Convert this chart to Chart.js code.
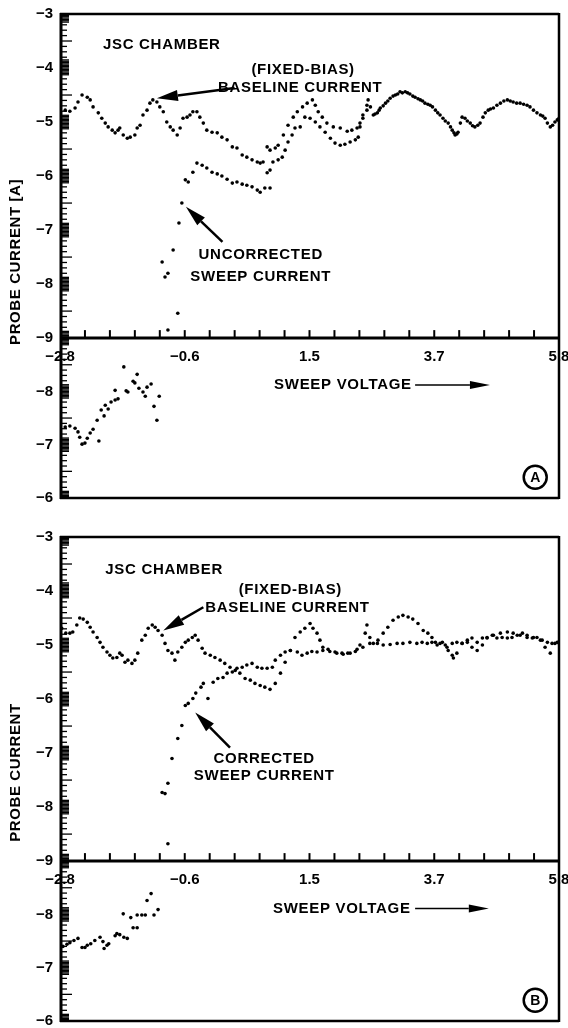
<!DOCTYPE html>
<html lang="en">
<head>
<meta charset="UTF-8">
<title>Probe current vs sweep voltage</title>
<script src="https://cdn.jsdelivr.net/npm/chart.js"></script>
<style>
  html, body { margin: 0; padding: 0; background: #fff; }
  body { width: 568px; height: 1028px; position: relative; overflow: hidden; }
  canvas { position: absolute; left: 0; }
  #chartA { top: 0; }
  #chartB { top: 523px; }
</style>
</head>
<body>
<canvas id="chartA" width="568" height="505"></canvas>
<canvas id="chartB" width="568" height="505"></canvas>
<script>
// sweep voltage axis, labelled ticks
const xTickValues = [-2.8, -0.65, 1.5, 3.65, 5.8];
const xTickLabels = ['−2.8', '−0.6', '1.5', '3.7', '5.8'];
// probe current axes: upper plot and the folded lower strip
const yUpperTicks = [-9, -8, -7, -6, -5, -4, -3];
const yLowerTicks = [-9, -8, -7, -6];

// panel A: fixed-bias baseline current [voltage, current]
const baselineA = [[-2.80,-4.69],[-2.71,-4.78],[-2.63,-4.80],[-2.54,-4.74],[-2.49,-4.63],[-2.42,-4.50],[-2.33,-4.54],[-2.28,-4.59],[-2.23,-4.72],[-2.14,-4.83],[-2.08,-4.93],[-2.02,-5.02],[-1.97,-5.09],[-1.90,-5.15],[-1.85,-5.20],[-1.80,-5.15],[-1.77,-5.11],[-1.71,-5.24],[-1.64,-5.30],[-1.59,-5.28],[-1.51,-5.24],[-1.47,-5.11],[-1.42,-5.06],[-1.37,-4.87],[-1.30,-4.78],[-1.25,-4.65],[-1.20,-4.59],[-1.13,-4.63],[-1.08,-4.72],[-1.02,-4.81],[-0.96,-5.00],[-0.90,-5.09],[-0.85,-5.15],[-0.78,-5.24],[-0.73,-5.11],[-0.68,-4.93],[-0.61,-4.91],[-0.56,-4.87],[-0.51,-4.81],[-0.44,-4.81],[-0.39,-4.91],[-0.33,-5.02],[-0.27,-5.15],[-0.18,-5.19],[-0.09,-5.20],[-0.01,-5.28],[0.08,-5.33],[0.17,-5.46],[0.25,-5.48],[0.34,-5.61],[0.42,-5.65],[0.51,-5.70],[0.60,-5.74],[0.65,-5.76],[0.70,-5.74],[0.77,-5.46],[0.82,-5.52],[0.91,-5.48],[0.96,-5.43],[1.05,-5.24],[1.13,-5.06],[1.22,-4.91],[1.29,-4.81],[1.38,-4.72],[1.46,-4.65],[1.55,-4.59],[1.60,-4.69],[1.65,-4.81],[1.72,-4.91],[1.80,-5.02],[1.91,-5.09],[2.03,-5.11],[2.15,-5.17],[2.23,-5.15],[2.32,-5.11],[2.37,-5.02],[2.42,-4.87],[2.49,-4.69],[2.51,-4.59],[2.60,-4.87],[2.67,-4.83],[2.72,-4.74],[2.81,-4.65],[2.89,-4.56],[2.98,-4.50],[3.06,-4.44],[3.15,-4.44],[3.23,-4.48],[3.32,-4.54],[3.41,-4.59],[3.49,-4.65],[3.58,-4.69],[3.67,-4.78],[3.75,-4.87],[3.80,-4.93],[3.89,-5.02],[3.96,-5.15],[4.01,-5.24],[4.06,-5.19],[4.13,-4.91],[4.18,-4.93],[4.27,-5.02],[4.35,-5.09],[4.44,-5.02],[4.49,-4.91],[4.58,-4.78],[4.67,-4.74],[4.79,-4.65],[4.91,-4.59],[5.01,-4.63],[5.13,-4.65],[5.25,-4.69],[5.36,-4.78],[5.48,-4.87],[5.56,-4.93],[5.65,-5.09],[5.73,-5.00],[5.80,-4.93]];
// panel A: uncorrected sweep current
const sweepA = [[-1.04,-7.59],[-0.99,-7.87],[-0.94,-7.80],[-0.94,-8.85],[-0.85,-7.37],[-0.77,-8.54],[-0.75,-6.87],[-0.70,-6.50],[-0.64,-6.07],[-0.59,-6.11],[-0.51,-5.93],[-0.44,-5.76],[-0.35,-5.80],[-0.27,-5.85],[-0.18,-5.93],[-0.09,-5.96],[-0.01,-6.00],[0.08,-6.06],[0.17,-6.13],[0.25,-6.11],[0.34,-6.15],[0.42,-6.17],[0.51,-6.20],[0.60,-6.26],[0.65,-6.30],[0.73,-6.22],[0.82,-6.22],[0.77,-5.94],[0.82,-5.89],[0.87,-5.74],[0.96,-5.70],[1.03,-5.65],[1.08,-5.52],[1.13,-5.37],[1.20,-5.24],[1.25,-5.11],[1.34,-5.09],[1.42,-4.91],[1.51,-4.93],[1.60,-5.00],[1.68,-5.09],[1.77,-5.19],[1.86,-5.30],[1.94,-5.39],[2.03,-5.43],[2.11,-5.41],[2.20,-5.37],[2.29,-5.33],[2.34,-5.28],[2.37,-5.09],[2.42,-4.93],[2.49,-4.78],[2.55,-4.72],[2.63,-4.85],[2.70,-4.78],[2.77,-4.70],[2.85,-4.61],[2.94,-4.52],[3.02,-4.48],[3.10,-4.46],[3.19,-4.46],[3.28,-4.52],[3.37,-4.57],[3.45,-4.61],[3.54,-4.67],[3.62,-4.72],[3.71,-4.83],[3.84,-4.98],[3.93,-5.09],[3.99,-5.20],[4.04,-5.22],[4.10,-5.02],[4.22,-4.98],[4.31,-5.07],[4.40,-5.06],[4.53,-4.83],[4.62,-4.76],[4.73,-4.69],[4.85,-4.61],[4.96,-4.61],[5.07,-4.65],[5.19,-4.67],[5.30,-4.72],[5.42,-4.83],[5.52,-4.89],[5.60,-5.02],[5.69,-5.06],[5.77,-4.96]];
// panel A: sweep points folded into the lower strip
const lowerA = [[-2.71,-7.33],[-2.63,-7.35],[-2.54,-7.31],[-2.49,-7.24],[-2.46,-7.14],[-2.42,-7.01],[-2.37,-7.03],[-2.33,-7.12],[-2.28,-7.22],[-2.23,-7.29],[-2.16,-7.46],[-2.13,-7.07],[-2.09,-7.65],[-2.04,-7.54],[-2.02,-7.74],[-1.97,-7.67],[-1.92,-7.80],[-1.85,-7.84],[-1.85,-8.02],[-1.80,-7.86],[-1.70,-8.46],[-1.66,-8.01],[-1.63,-7.99],[-1.54,-8.19],[-1.51,-8.16],[-1.47,-8.32],[-1.44,-8.06],[-1.37,-7.99],[-1.33,-7.91],[-1.30,-8.08],[-1.23,-8.14],[-1.18,-7.72],[-1.13,-7.46],[-1.09,-7.91]];

// panel B: fixed-bias baseline current
const baselineB = [[-2.77,-4.69],[-2.70,-4.78],[-2.63,-4.78],[-2.58,-4.76],[-2.51,-4.63],[-2.46,-4.50],[-2.40,-4.52],[-2.33,-4.58],[-2.28,-4.67],[-2.23,-4.76],[-2.16,-4.86],[-2.11,-4.95],[-2.06,-5.04],[-1.99,-5.13],[-1.94,-5.19],[-1.89,-5.24],[-1.82,-5.23],[-1.77,-5.15],[-1.73,-5.19],[-1.68,-5.32],[-1.63,-5.28],[-1.56,-5.34],[-1.51,-5.28],[-1.46,-5.15],[-1.39,-4.91],[-1.33,-4.82],[-1.28,-4.69],[-1.21,-4.63],[-1.16,-4.67],[-1.11,-4.73],[-1.04,-4.82],[-0.99,-4.97],[-0.94,-5.10],[-0.87,-5.15],[-0.82,-5.28],[-0.77,-5.13],[-0.70,-5.04],[-0.64,-4.95],[-0.59,-4.91],[-0.52,-4.86],[-0.47,-4.82],[-0.42,-4.91],[-0.35,-5.06],[-0.30,-5.15],[-0.21,-5.19],[-0.13,-5.23],[-0.04,-5.28],[0.04,-5.34],[0.13,-5.41],[0.22,-5.47],[0.30,-5.52],[0.39,-5.62],[0.48,-5.65],[0.56,-5.71],[0.65,-5.75],[0.73,-5.78],[0.82,-5.82],[0.91,-5.71],[1.00,-5.52],[1.08,-5.32],[1.17,-5.10],[1.25,-4.86],[1.34,-4.76],[1.42,-4.69],[1.51,-4.60],[1.56,-4.69],[1.63,-4.78],[1.68,-4.91],[1.73,-5.04],[1.82,-5.08],[1.94,-5.13],[2.06,-5.15],[2.16,-5.15],[2.29,-5.12],[2.37,-5.00],[2.46,-4.78],[2.49,-4.63],[2.54,-4.86],[2.60,-4.97],[2.68,-4.91],[2.77,-4.78],[2.85,-4.67],[2.94,-4.54],[3.03,-4.48],[3.11,-4.45],[3.20,-4.48],[3.28,-4.52],[3.37,-4.60],[3.46,-4.73],[3.54,-4.78],[3.61,-4.86],[3.67,-4.95],[3.75,-4.97],[3.84,-5.00],[3.89,-5.10],[3.96,-5.19],[3.98,-5.24],[4.04,-5.15],[4.13,-4.97],[4.22,-4.95],[4.30,-5.04],[4.39,-5.10],[4.48,-5.00],[4.56,-4.87],[4.67,-4.82],[4.79,-4.78],[4.91,-4.76],[5.01,-4.78],[5.13,-4.82],[5.25,-4.82],[5.36,-4.86],[5.48,-4.91],[5.56,-5.04],[5.65,-5.15],[5.73,-4.97],[5.80,-4.95]];
// panel B: corrected sweep current
const sweepB = [[-0.94,-8.68],[-1.04,-7.73],[-0.99,-7.75],[-0.94,-7.56],[-0.87,-7.10],[-0.77,-6.73],[-0.70,-6.49],[-0.64,-6.12],[-0.59,-6.08],[-0.51,-5.99],[-0.46,-5.89],[-0.37,-5.78],[-0.33,-5.71],[-0.25,-5.99],[-0.16,-5.69],[-0.08,-5.62],[0.01,-5.60],[0.08,-5.52],[0.17,-5.50],[0.25,-5.43],[0.34,-5.41],[0.42,-5.37],[0.51,-5.34],[0.60,-5.41],[0.68,-5.43],[0.77,-5.43],[0.86,-5.41],[0.91,-5.28],[1.00,-5.19],[1.08,-5.13],[1.17,-5.10],[1.29,-5.13],[1.37,-5.19],[1.46,-5.15],[1.54,-5.12],[1.63,-5.13],[1.73,-5.10],[1.85,-5.12],[1.97,-5.15],[2.08,-5.17],[2.20,-5.15],[2.32,-5.08],[2.42,-5.04],[2.54,-4.97],[2.67,-4.97],[2.77,-5.00],[2.89,-4.99],[3.01,-4.97],[3.11,-4.97],[3.23,-4.95],[3.35,-4.97],[3.44,-4.95],[3.53,-4.97],[3.61,-4.95],[3.70,-5.00],[3.79,-4.95],[3.87,-5.04],[3.96,-4.97],[4.04,-4.95],[4.13,-4.97],[4.22,-4.91],[4.30,-4.87],[4.39,-4.95],[4.48,-4.87],[4.56,-4.86],[4.65,-4.82],[4.73,-4.87],[4.82,-4.86],[4.91,-4.87],[4.99,-4.86],[5.08,-4.82],[5.17,-4.78],[5.25,-4.86],[5.34,-4.87],[5.42,-4.86],[5.51,-4.91],[5.60,-4.95],[5.68,-4.97],[5.77,-4.95]];
// panel B: sweep points folded into the lower strip
const lowerB = [[-2.75,-7.40],[-2.68,-7.44],[-2.63,-7.47],[-2.56,-7.51],[-2.49,-7.55],[-2.42,-7.38],[-2.37,-7.38],[-2.33,-7.42],[-2.27,-7.45],[-2.20,-7.51],[-2.11,-7.57],[-2.06,-7.49],[-2.04,-7.36],[-1.99,-7.42],[-1.96,-7.45],[-1.85,-7.60],[-1.82,-7.64],[-1.77,-7.62],[-1.70,-7.57],[-1.64,-7.55],[-1.71,-8.01],[-1.58,-7.94],[-1.54,-7.75],[-1.47,-7.75],[-1.47,-7.99],[-1.39,-7.99],[-1.33,-7.99],[-1.30,-8.26],[-1.23,-8.39],[-1.18,-7.99],[-1.11,-8.09]];

const FONT = '"Liberation Sans", Arial, sans-serif';
const BOLD = { family: FONT, size: 15, weight: 'bold' };

function seg(ctx, x1, y1, x2, y2) {
  ctx.beginPath(); ctx.moveTo(x1, y1); ctx.lineTo(x2, y2); ctx.stroke();
}

function arrow(ctx, x1, y1, x2, y2, head, half, w) {
  const ang = Math.atan2(y2 - y1, x2 - x1);
  const bx = x2 - head * Math.cos(ang), by = y2 - head * Math.sin(ang);
  ctx.lineWidth = w;
  seg(ctx, x1, y1, bx, by);
  ctx.beginPath();
  ctx.moveTo(x2, y2);
  ctx.lineTo(bx + half * Math.sin(ang), by - half * Math.cos(ang));
  ctx.lineTo(bx - half * Math.sin(ang), by + half * Math.cos(ang));
  ctx.closePath(); ctx.fill();
}

// frame, ruler ticks, notes and arrows of one panel
function panelArt(spec) {
  return {
    id: 'panelArt',
    afterDraw(chart) {
      const { ctx, chartArea: a } = chart;
      const { x, y, y2 } = chart.scales;
      const top = y.getPixelForValue(-3), mid = y.getPixelForValue(-9), bot = y2.getPixelForValue(-6);
      ctx.save();
      ctx.strokeStyle = '#000'; ctx.fillStyle = '#000';

      ctx.lineWidth = 2.5;
      seg(ctx, a.left, top, a.right, top);
      seg(ctx, a.right, top - 1, a.right, bot + 1);
      seg(ctx, a.left, bot, a.right, bot);
      ctx.lineWidth = 3;
      seg(ctx, a.left, mid, a.right, mid);
      seg(ctx, a.left + 1, top - 1, a.left + 1, bot + 1);

      // dense ruler marks on the current axes
      ctx.lineWidth = 1.3;
      [[y, -9, -3], [y2, -9, -6]].forEach(([s, lo, hi]) => {
        for (let k = Math.round(lo * 40); k <= Math.round(hi * 40); k++) {
          const v = k / 40, d = Math.abs(v - Math.round(v));
          if (d > 0.15 && k % 4 !== 0) continue;
          const len = d <= 0.15 ? 9 : (k % 20 === 0 ? 12 : 7);
          const py = s.getPixelForValue(v);
          seg(ctx, a.left, py, a.left + len, py);
        }
      });

      // voltage ticks point up from the middle axis
      ctx.lineWidth = 2;
      for (let i = 0; i < xTickValues.length - 1; i++) {
        for (let j = 0; j < 5; j++) {
          if (i === 0 && j === 0) continue;
          const v = xTickValues[i] + (xTickValues[i + 1] - xTickValues[i]) * j / 5;
          const px = x.getPixelForValue(v);
          seg(ctx, px, mid, px, mid - 8);
        }
      }

      ctx.font = `bold 15px ${FONT}`;
      ctx.textBaseline = 'middle';
      ctx.letterSpacing = '0.7px';
      spec.notes.forEach(n => {
        const s = n.low ? y2 : y;
        ctx.textAlign = n.align;
        ctx.fillText(n.text, x.getPixelForValue(n.x), s.getPixelForValue(n.y));
      });
      spec.pointers.forEach(p => {
        arrow(ctx, x.getPixelForValue(p[0]), y.getPixelForValue(p[1]),
              x.getPixelForValue(p[2]), y.getPixelForValue(p[3]), 21, 5.5, 2.5);
      });
      const v = spec.voltArrow;
      const vy = y2.getPixelForValue(v[2]);
      arrow(ctx, x.getPixelForValue(v[0]), vy, x.getPixelForValue(v[1]), vy, 20, 4, 1.6);

      // circled panel letter
      const cx = x.getPixelForValue(spec.badge[1]), cy = y2.getPixelForValue(spec.badge[2]);
      ctx.letterSpacing = '0px';
      ctx.lineWidth = 2.5;
      ctx.beginPath(); ctx.arc(cx, cy, 11.5, 0, Math.PI * 2); ctx.stroke();
      ctx.textAlign = 'center';
      ctx.font = `bold 14px ${FONT}`;
      ctx.fillText(spec.badge[0], cx, cy + 1);

      // vertical axis title
      ctx.font = `bold 15px ${FONT}`;
      ctx.letterSpacing = '0.6px';
      ctx.translate(16, y.getPixelForValue(spec.titleAt));
      ctx.rotate(-Math.PI / 2);
      ctx.fillText(spec.title, 0, 0);
      ctx.restore();
    }
  };
}

function dots(points, axis) {
  return {
    data: points.map(([vx, vy]) => ({ x: vx, y: vy })),
    yAxisID: axis,
    pointRadius: 1.8,
    pointHoverRadius: 1.8,
    pointBackgroundColor: '#000',
    pointBorderWidth: 0
  };
}

function currentAxis(ticks, weight, reverse) {
  return {
    type: 'linear', position: 'left', stack: 'probe', stackWeight: weight,
    min: ticks[0], max: ticks[ticks.length - 1], reverse: reverse,
    grid: { display: false, drawTicks: false }, border: { display: false },
    afterBuildTicks: s => { s.ticks = ticks.map(v => ({ value: v })); },
    afterFit: s => { s.width = 60; s.paddingTop = 0; s.paddingBottom = 0; },
    ticks: {
      autoSkip: false, padding: 7, color: '#000', font: BOLD,
      callback: v => (reverse && v === -9) ? '' : '−' + Math.abs(v)
    }
  };
}

function makePanel(id, base, sweep, lower, spec) {
  new Chart(document.getElementById(id), {
    type: 'scatter',
    data: { datasets: [dots(base, 'y'), dots(sweep, 'y'), dots(lower, 'y2')] },
    options: {
      responsive: false,
      animation: false,
      layout: { padding: { top: 14, right: 9, bottom: 7, left: 0 } },
      plugins: { legend: { display: false }, tooltip: { enabled: false } },
      scales: {
        y2: currentAxis(yLowerTicks, 2.96, true),
        y: currentAxis(yUpperTicks, 6, false),
        x: {
          type: 'linear', min: -2.8, max: 5.8, position: { y: -9 },
          grid: { display: false, drawTicks: false }, border: { display: false },
          afterBuildTicks: s => { s.ticks = xTickValues.map(v => ({ value: v })); },
          afterFit: s => { s.paddingLeft = 0; s.paddingRight = 0; },
          ticks: {
            autoSkip: false, maxRotation: 0, padding: 10, color: '#000', font: BOLD,
            callback: (v, i) => xTickLabels[i]
          }
        }
      }
    },
    plugins: [panelArt(spec)]
  });
}

makePanel('chartA', baselineA, sweepA, lowerA, {
  notes: [
    { text: 'JSC CHAMBER', x: -2.06, y: -3.57, align: 'left' },
    { text: '(FIXED-BIAS)', x: 1.39, y: -4.04, align: 'center' },
    { text: 'BASELINE CURRENT', x: 1.34, y: -4.37, align: 'center' },
    { text: 'UNCORRECTED', x: 0.66, y: -7.46, align: 'center' },
    { text: 'SWEEP CURRENT', x: 0.66, y: -7.87, align: 'center' },
    { text: 'SWEEP VOLTAGE', x: 0.89, y: -8.12, align: 'left', low: true }
  ],
  pointers: [[0.21, -4.37, -1.13, -4.56], [0.00, -7.22, -0.63, -6.57]],
  voltArrow: [3.32, 4.61, -8.12],
  badge: ['A', 5.39, -6.39],
  title: 'PROBE CURRENT [A]',
  titleAt: -7.59
});

makePanel('chartB', baselineB, sweepB, lowerB, {
  notes: [
    { text: 'JSC CHAMBER', x: -2.02, y: -3.61, align: 'left' },
    { text: '(FIXED-BIAS)', x: 1.17, y: -3.98, align: 'center' },
    { text: 'BASELINE CURRENT', x: 1.12, y: -4.32, align: 'center' },
    { text: 'CORRECTED', x: 0.72, y: -7.10, align: 'center' },
    { text: 'SWEEP CURRENT', x: 0.72, y: -7.43, align: 'center' },
    { text: 'SWEEP VOLTAGE', x: 0.87, y: -8.11, align: 'left', low: true }
  ],
  pointers: [[-0.33, -4.30, -1.02, -4.73], [0.13, -6.90, -0.47, -6.25]],
  voltArrow: [3.32, 4.59, -8.11],
  badge: ['B', 5.39, -6.39],
  title: 'PROBE CURRENT',
  titleAt: -7.36
});
</script>
</body>
</html>
